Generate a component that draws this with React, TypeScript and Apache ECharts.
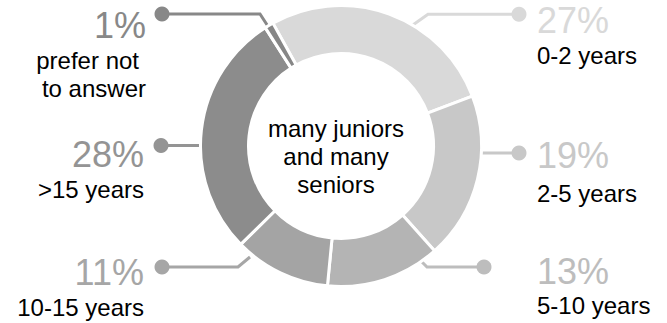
import React, { useEffect, useRef } from 'react';
import * as echarts from 'echarts';

// ---- data ----
const categories = ['0-2 years', '2-5 years', '5-10 years', '10-15 years', '>15 years', 'prefer not to answer'];
const categoryLabelLines = [['0-2 years'], ['2-5 years'], ['5-10 years'], ['10-15 years'], ['>15 years'], ['prefer not', 'to answer']];
const shares = [27, 19, 13, 11, 28, 1];
const centerLines = ['many juniors', 'and many', 'seniors'];

// ---- styles ----
const sliceColors = ['#d9d9d9', '#c8c8c8', '#b4b4b4', '#a4a4a4', '#8c8c8c', '#868686'];
const accentColors = ['#d9d9d9', '#c8c8c8', '#bdbdbd', '#a6a6a6', '#949494', '#888888'];
const FONT = '"Liberation Sans", Arial, sans-serif';

// ---- layout (pixels) ----
const CENTER: [number, number] = [341, 146];
type Lay = { side: 'left' | 'right'; textX: number; pctY: number; pctLH: number; line: number[][] };
const labelLayouts: Lay[] = [
  { side: 'right', textX: 537, pctY: 20, pctLH: 43, line: [[410, 27], [428, 14.3], [519, 14.3]] },
  { side: 'right', textX: 537, pctY: 155.3, pctLH: 47.6, line: [[480, 153], [500, 153], [519, 153]] },
  { side: 'right', textX: 537, pctY: 271, pctLH: 41, line: [[418, 258], [427, 267], [484, 267]] },
  { side: 'left', textX: 144, pctY: 272.8, pctLH: 41.2, line: [[250, 257], [238, 267], [162, 267]] },
  { side: 'left', textX: 144, pctY: 154.2, pctLH: 41.8, line: [[203, 145.5], [180, 145.5], [161, 145.5]] },
  { side: 'left', textX: 146, pctY: 25.7, pctLH: 41.4, line: [[293, 65], [260, 14], [162, 14]] },
];

export default function App() {
  const ref = useRef<HTMLDivElement>(null);
  useEffect(() => {
    if (!ref.current) return;
    const chart = echarts.init(ref.current, undefined, { renderer: 'svg' });

    const rich: Record<string, any> = {
      cat: { fontSize: 24, fontFamily: FONT, color: '#000', lineHeight: 28 },
      sp: { width: 7, lineHeight: 28 },
    };
    shares.forEach((_, i) => {
      rich['pct' + i] = {
        fontSize: 36,
        fontFamily: FONT,
        color: accentColors[i],
        lineHeight: labelLayouts[i].pctLH,
      };
    });

    const data = categories.map((name, i) => ({
      name,
      value: shares[i],
      itemStyle: { color: sliceColors[i] },
      labelLine: { lineStyle: { color: accentColors[i] } },
    }));

    chart.setOption({
      animation: false,
      backgroundColor: '#fff',
      series: [
        {
          type: 'pie',
          silent: true,
          center: CENTER,
          radius: [92.5, 140.5],
          startAngle: 119,
          clockwise: true,
          avoidLabelOverlap: false,
          itemStyle: { borderColor: '#fff', borderWidth: 3 },
          label: {
            show: true,
            position: 'outside',
            rich,
            formatter: (p: any) => {
              const i = p.dataIndex;
              const lines = categoryLabelLines[i];
              const left = labelLayouts[i].side === 'left';
              const catPart = lines
                .map((l, k) => `{cat|${l}}` + (left && lines.length > 1 && k === 0 ? '{sp|}' : ''))
                .join('\n');
              return `{pct${i}|${shares[i]}%}\n` + catPart;
            },
          },
          labelLine: { show: true, length: 10, length2: 10, lineStyle: { width: 3 } },
          labelLayout: (params: any) => {
            const L = labelLayouts[params.dataIndex];
            return {
              x: L.textX,
              y: L.pctY - L.pctLH / 2,
              align: L.side === 'right' ? 'left' : 'right',
              verticalAlign: 'top',
              hideOverlap: false,
              labelLinePoints: L.line,
            };
          },
          data,
        },
      ],
      graphic: [
        ...labelLayouts.map((L, i) => ({
          type: 'circle',
          z: 100,
          silent: true,
          shape: { cx: L.line[2][0], cy: L.line[2][1], r: 7.5 },
          style: { fill: accentColors[i] },
        })),
        {
          type: 'text',
          z: 100,
          silent: true,
          x: 336,
          y: 156,
          style: {
            text: centerLines.join('\n'),
            fontSize: 24,
            fontFamily: FONT,
            lineHeight: 28,
            fill: '#000',
            align: 'center',
            verticalAlign: 'middle',
            textAlign: 'center',
            textVerticalAlign: 'middle',
          },
        },
      ],
    });
    return () => chart.dispose();
  }, []);
  return (
    <div
      ref={ref}
      style={{ position: 'absolute', left: 0, top: 0, width: 667, height: 323, background: '#fff' }}
    />
  );
}
